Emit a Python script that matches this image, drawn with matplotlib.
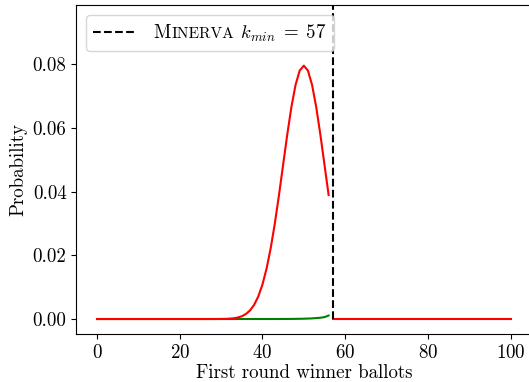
import numpy as np
import matplotlib.pyplot as plt
from matplotlib.offsetbox import HPacker, TextArea

plt.rcParams['font.family'] = 'cmr10'
plt.rcParams['mathtext.fontset'] = 'cm'
plt.rcParams['axes.formatter.use_mathtext'] = True

# Distribuicao dos votos do vencedor no primeiro turno (k <= 56)
ballots_low = np.arange(0, 57)
prob_low = [0.0] * 28 + [
    0.000003, 0.000009, 0.00002, 0.00005, 0.00011, 0.00023, 0.00046,
    0.00086, 0.00157, 0.00271, 0.00448, 0.00711, 0.01084, 0.01587,
    0.02229, 0.03007, 0.03895, 0.04847, 0.05796, 0.06659, 0.07353,
    0.07803, 0.07959, 0.07803, 0.07353, 0.06659, 0.05796, 0.04847, 0.03895,
]
risk_low = [0.0] * 40 + [
    0.000002, 0.000003, 0.000005, 0.000007, 0.00001, 0.000015, 0.00002,
    0.00003, 0.00005, 0.00007, 0.0001, 0.00014, 0.0002, 0.0003,
    0.0004, 0.0006, 0.0011,
]

# Parte a partir de k_min
ballots_high = np.arange(57, 101)
prob_high = [0.0] * 44

k_min = 57
vline_top = 0.0985
fs = 13.6

fig = plt.figure(figsize=(5.29, 3.82), dpi=100)
ax = fig.add_axes([0.1443, 0.1257, 0.860, 0.8600])

ax.plot(ballots_low, risk_low, color='green', linewidth=1.5)
ax.plot(ballots_low, prob_low, color='red', linewidth=1.5)
ax.plot(ballots_high, prob_high, color='red', linewidth=1.5)
ax.vlines(k_min, 0, vline_top, colors='black', linestyles='--', linewidth=1.5,
          label='Minerva')

ax.set_xlim(-5, 105)
ax.set_ylim(-0.0047, 0.0985)
ax.set_xticks([0, 20, 40, 60, 80, 100])
ax.set_yticks([0.00, 0.02, 0.04, 0.06, 0.08])
ax.set_yticklabels(['0.00', '0.02', '0.04', '0.06', '0.08'])
ax.tick_params(labelsize=fs)

ax.set_xlabel('First round winner ballots', fontsize=fs, labelpad=2)
ax.set_ylabel('Probability', fontsize=fs)

leg = ax.legend(loc='upper left', fontsize=fs, handlelength=2.2, handletextpad=1.0)

# versalete (small caps) para o nome Minerva
row = leg._legend_handle_box.get_children()[0].get_children()[0]
label_box = HPacker(children=[
    TextArea('M', textprops=dict(fontsize=fs)),
    TextArea('INERVA', textprops=dict(fontsize=fs * 0.82)),
    TextArea(r' $k_{min} \;=\; 57$', textprops=dict(fontsize=fs)),
], align='baseline', pad=0, sep=0)
label_box.set_figure(fig)
row._children[1] = label_box

fig.savefig('out.png', dpi=100)
